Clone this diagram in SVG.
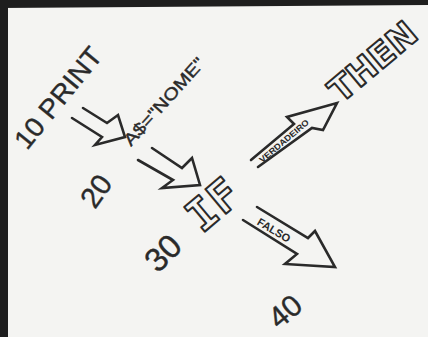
<svg xmlns="http://www.w3.org/2000/svg" width="428" height="337" viewBox="0 0 428 337">
  <defs>
    <style>
      .hand { font-family: "Liberation Sans", "DejaVu Sans", sans-serif; fill: #2a2a2a; stroke: #2a2a2a; stroke-width: 0.4; }
      .block { font-family: "DejaVu Sans", "Liberation Sans", sans-serif; font-weight: bold; fill: #f4f4f2; stroke: #2a2a2a; stroke-width: 2; stroke-linejoin: round; }
      .blockmono { font-family: "DejaVu Sans Mono", "Liberation Mono", monospace; font-weight: bold; fill: #f4f4f2; stroke: #2a2a2a; stroke-width: 2; stroke-linejoin: round; }
      .small { font-family: "Liberation Sans", "DejaVu Sans", sans-serif; font-weight: bold; fill: #2a2a2a; }
      .arrow { fill: none; stroke: #2a2a2a; stroke-width: 2.6; stroke-linejoin: miter; stroke-linecap: round; }
    </style>
  </defs>
  <rect x="0" y="0" width="428" height="337" fill="#f4f4f2"/>
  <polygon points="0,0 428,0 428,5 0,8" fill="#1e1e1e"/>
  <rect x="0" y="0" width="8" height="337" fill="#1e1e1e"/>

  <g id="n10">
    <text class="hand" font-size="27" textLength="122" lengthAdjust="spacingAndGlyphs" transform="translate(27,151) rotate(-51)">10 PRINT</text>
  </g>
  <g id="n20">
    <text class="hand" font-size="17" textLength="112" lengthAdjust="spacingAndGlyphs" transform="translate(131,147) rotate(-48)">A$="NOME"</text>
    <text class="hand" font-size="29" transform="translate(95,210) rotate(-55)">20</text>
  </g>
  <g id="n30">
    <text class="hand" font-size="33" transform="translate(158,274) rotate(-45)">30</text>
    <text class="blockmono" font-size="44" letter-spacing="1" transform="translate(202,234) rotate(-40)">IF</text>
  </g>
  <g id="nthen">
    <text class="block" font-size="34" transform="translate(341,104) rotate(-40)">THEN</text>
  </g>
  <g id="n40">
    <text class="hand" font-size="30" transform="translate(279,330) rotate(-40)">40</text>
  </g>

  <g id="connectors">
    <polyline class="arrow" points="83,108 107,123 118,115 125,137 95,145 102,137 72,118"/>
    <polyline class="arrow" points="152,148 182,168 192,158 200,185 162,188 173,180 138,160"/>
    <polyline class="arrow" points="251,160 294,124 287,117 337,103 323,130 312,128 258,167"/>
    <polyline class="arrow" points="257,207 308,238 315,231 335,267 285,264 297,254 243,220"/>
    <text class="small" font-size="8.5" text-anchor="middle" textLength="62" lengthAdjust="spacingAndGlyphs" transform="translate(284,141) rotate(-40)" dy="3">VERDADEIRO</text>
    <text class="small" font-size="11" text-anchor="middle" transform="translate(274,230) rotate(31)" dy="4">FALSO</text>
  </g>
</svg>
